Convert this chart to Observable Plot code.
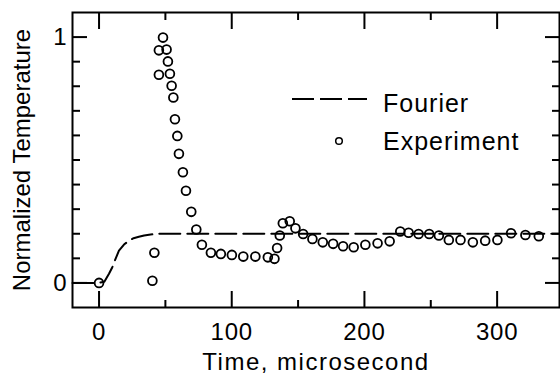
<!DOCTYPE html>
<html><head><meta charset="utf-8">
<script src="https://cdn.jsdelivr.net/npm/d3@7"></script>
<script src="https://cdn.jsdelivr.net/npm/@observablehq/plot@0.6"></script>
<style>
body{margin:0;background:#fff;}
#wrap{position:relative;width:560px;height:374px;}
#legend{position:absolute;left:0;top:0;}
svg text{font-family:"Liberation Sans", Arial, sans-serif;}
g[aria-label="x-axis tick label"] text{letter-spacing:0.8px;}
g[aria-label="x-axis label"] text{letter-spacing:1.5px;}
</style></head><body><div id="wrap"></div>
<script>
// Experiment (circles)
const expTime = [0, 40.2, 41.7, 45.1, 45.1, 48.2, 50.9, 51.9, 53.4, 54.7, 56, 57.2, 59, 60.2, 63.2, 65.5, 69.5, 73.3, 77.5, 84.3, 91.8, 100.1, 108.7, 117.8, 127.2, 132.2, 134.2, 136.2, 138.5, 143.7, 148, 153.8, 160.8, 168.6, 176.4, 183.9, 191.9, 200.7, 209.9, 219, 227, 233.3, 240.8, 248.8, 256.1, 263.6, 272.4, 281.7, 291, 300.2, 310.5, 321.3, 331.4];
const expTemp = [0, 0.009, 0.123, 0.847, 0.946, 0.998, 0.949, 0.901, 0.851, 0.802, 0.754, 0.666, 0.598, 0.525, 0.45, 0.375, 0.289, 0.217, 0.155, 0.123, 0.118, 0.114, 0.107, 0.107, 0.104, 0.098, 0.142, 0.193, 0.243, 0.251, 0.222, 0.199, 0.179, 0.165, 0.159, 0.149, 0.145, 0.155, 0.161, 0.169, 0.209, 0.204, 0.199, 0.199, 0.193, 0.175, 0.175, 0.165, 0.172, 0.175, 0.202, 0.195, 0.19];
// Fourier (dashed)
const fourierTime = [-20, 0, 4, 7.5, 10, 12.6, 15, 18.8, 22.6, 26, 30, 34, 38.9, 45, 347];
const fourierTemp = [0, 0, 0.005, 0.037, 0.064, 0.1, 0.131, 0.156, 0.172, 0.182, 0.188, 0.193, 0.197, 0.2, 0.2];

const xMajorTicks = [0, 100, 200, 300];
const xMinorTicks = [50, 150, 250];
const yMajorTicks = [0, 1];
const yMinorTicks = [0.1, 0.2, 0.3, 0.4, 0.5, 0.6, 0.7, 0.8, 0.9];
const xLabel = "Time, microsecond";
const yLabel = "Normalized Temperature";
const legendLabels = ["Fourier", "Experiment"];

const exp = expTime.map((t, i) => ({t, v: expTemp[i]}));
const fou = fourierTime.map((t, i) => ({t, v: fourierTemp[i]}));

const tickStyle = {text: null, label: null, strokeWidth: 2};
const chart = Plot.plot({
  width: 560, height: 374,
  marginLeft: 72, marginRight: 1, marginTop: 12, marginBottom: 67,
  style: {fontFamily: "'Liberation Sans', Arial, sans-serif", fontSize: "24px", background: "white", color: "black"},
  x: {domain: [-20, 347]},
  y: {domain: [-0.1, 1.1]},
  marks: [
    Plot.frame({stroke: "black", strokeWidth: 2}),
    Plot.axisX(xMajorTicks, {anchor: "bottom", tickSize: -16, ...tickStyle}),
    Plot.axisX(xMinorTicks, {anchor: "bottom", tickSize: -7, ...tickStyle}),
    Plot.axisX(xMajorTicks, {anchor: "top", tickSize: -16, ...tickStyle}),
    Plot.axisX(xMinorTicks, {anchor: "top", tickSize: -7, ...tickStyle}),
    Plot.axisY(yMajorTicks, {anchor: "left", tickSize: -15, ...tickStyle}),
    Plot.axisY(yMinorTicks, {anchor: "left", tickSize: -8, ...tickStyle}),
    Plot.axisY(yMajorTicks, {anchor: "right", tickSize: -15, ...tickStyle}),
    Plot.axisY(yMinorTicks, {anchor: "right", tickSize: -8, ...tickStyle}),
    Plot.axisX(xMajorTicks, {anchor: "bottom", tickSize: 0, tickPadding: 15, tickFormat: d3.format("d"), label: xLabel, labelAnchor: "center", labelOffset: 62, labelArrow: "none", fontSize: 24}),
    Plot.axisY(yMajorTicks, {anchor: "left", tickSize: 0, tickPadding: 6, tickFormat: d3.format("d"), label: yLabel, labelAnchor: "center", labelOffset: 60, labelArrow: "none", fontSize: 24}),
    Plot.line(fou, {x: "t", y: "v", stroke: "black", strokeWidth: 2, strokeDasharray: "21,7"}),
    Plot.dot(exp, {x: "t", y: "v", r: 4.4, stroke: "black", strokeWidth: 1.8, fill: "none"})
  ]
});
const wrap = document.getElementById("wrap");
wrap.appendChild(chart);

// in-plot legend overlay
const lg = d3.select(wrap).append("svg").attr("id", "legend").attr("width", 560).attr("height", 374)
  .style("font-family", "'Liberation Sans', Arial, sans-serif").style("font-size", "25px");
lg.append("line").attr("x1", 292).attr("x2", 367).attr("y1", 99).attr("y2", 99)
  .attr("stroke", "black").attr("stroke-width", 2).attr("stroke-dasharray", "22,6");
lg.append("circle").attr("cx", 339).attr("cy", 141).attr("r", 3.3)
  .attr("fill", "none").attr("stroke", "black").attr("stroke-width", 1.5);
lg.append("text").attr("x", 383).attr("y", 111.5).attr("letter-spacing", "1px").text(legendLabels[0]);
lg.append("text").attr("x", 383).attr("y", 150).attr("letter-spacing", "1px").text(legendLabels[1]);
</script></body></html>
